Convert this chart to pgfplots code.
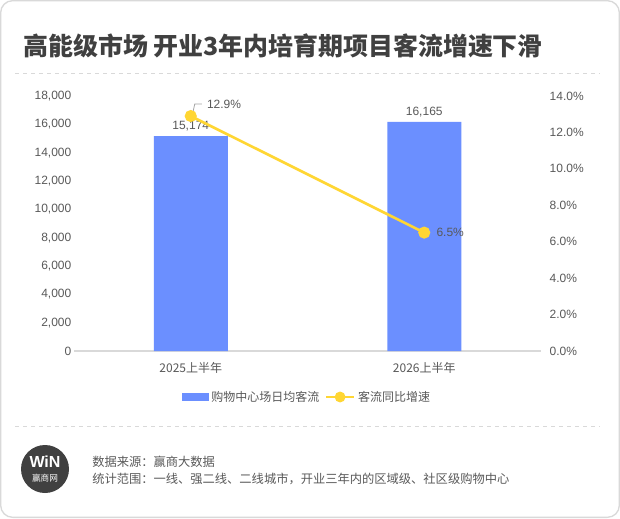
\documentclass[border=0pt]{standalone}
\usepackage{fontspec}
\setmainfont{Liberation Sans}
\newfontfamily\cjk{Noto Sans CJK SC}
\usepackage{pgfplots}
\pgfplotsset{compat=1.18}
\definecolor{barblue}{HTML}{6B8FFF}
\definecolor{lineyel}{HTML}{FFD633}
\definecolor{txt}{HTML}{595959}
\definecolor{ttl}{HTML}{404040}
\definecolor{bord}{HTML}{D9D9D9}
\begin{document}
\begin{tikzpicture}
\useasboundingbox (0,0) rectangle (465pt,-388.5pt);
\draw[bord, line width=1pt, rounded corners=9pt, fill=white] (0.5pt,-0.5pt) rectangle (464.5pt,-388pt);
\node[anchor=west, text=ttl, inner sep=0pt, font=\cjk\bfseries\fontsize{18.7}{20}\selectfont] at (23*0.75pt,-46*0.75pt) {高能级市场 开业3年内培育期项目客流增速下滑};
\draw[bord, dashed, line width=0.6pt] (15*0.75pt,-73*0.75pt) -- (600*0.75pt,-73*0.75pt);
\draw[bord, dashed, line width=0.6pt] (15*0.75pt,-426*0.75pt) -- (600*0.75pt,-426*0.75pt);
% logo
\fill[ttl] (45*0.75pt,-469*0.75pt) circle (18pt);
\node[text=white, inner sep=0pt, font=\bfseries\fontsize{12}{12}\selectfont] at (45*0.75pt,-462*0.75pt) {WiN};
\node[text=white, inner sep=0pt, font=\cjk\fontsize{6.5}{7}\selectfont] at (45*0.75pt,-478*0.75pt) {赢商网};
\node[anchor=west, text=txt, inner sep=0pt, font=\cjk\fontsize{9.2}{11}\selectfont] at (92*0.75pt,-462*0.75pt) {数据来源：赢商大数据};
\node[anchor=west, text=txt, inner sep=0pt, font=\cjk\fontsize{9.2}{11}\selectfont] at (92*0.75pt,-479*0.75pt) {统计范围：一线、强二线、二线城市，开业三年内的区域级、社区级购物中心};

\begin{axis}[
  at={(74*0.75pt,-351*0.75pt)}, anchor=south west,
  scale only axis, width=350.25pt, height=191.25pt,
  xmin=-0.5, xmax=1.5, ymin=0, ymax=18000,
  axis x line*=bottom, axis y line*=left,
  x axis line style={bord, line width=0.8pt, -},
  y axis line style={draw=none},
  major tick length=0pt,
  xtick={0,1}, xticklabels={2025上半年,2026上半年},
  xticklabel style={font=\cjk\fontsize{9}{11}\selectfont, text=txt, yshift=-5pt},
  ytick={0,2000,...,18000},
  yticklabel style={font=\fontsize{9}{11}\selectfont, text=txt, xshift=1.5pt},
  /pgf/number format/assume math mode=true,
  /pgf/number format/1000 sep={,},
  scaled y ticks=false,
  ybar, bar width=55.5pt,
  nodes near coords,
  nodes near coords style={font=\fontsize{9}{11}\selectfont, text=txt},
]
\addplot[fill=barblue, draw=none] coordinates {(0,15174) (1,16165)};
\end{axis}

\begin{axis}[
  at={(74*0.75pt,-351*0.75pt)}, anchor=south west,
  scale only axis, width=350.25pt, height=191.25pt,
  xmin=-0.5, xmax=1.5, ymin=0, ymax=14,
  hide x axis, axis y line*=right,
  y axis line style={draw=none},
  major tick length=0pt,
  ytick={0,2,...,14},
  yticklabel style={font=\fontsize{9}{11}\selectfont, text=txt, xshift=3pt},
  /pgf/number format/assume math mode=true,
  yticklabel={\pgfmathprintnumber[fixed,fixed zerofill,precision=1]{\tick}\%},
  legend style={at={(0.5,0)}, anchor=center, yshift=-34.5pt, draw=none, fill=none,
    font=\cjk\fontsize{9}{11}\selectfont, text=txt, legend columns=2,
    /tikz/every even column/.append style={column sep=2pt}},
  legend cell align=left,
]
\addlegendimage{legend image code/.code={\fill[barblue] (0pt,-2.6pt) rectangle (19.5pt,2.6pt);}}
\addlegendentry{购物中心场日均客流}
\draw[gray!70, line width=0.6pt] (axis cs:0,12.9) ++(1.5pt,2.25pt) -- ++(1.5pt,6.75pt) -- ++(5.25pt,0pt);
\addplot[lineyel, line width=2pt, mark=*, mark size=3.5pt, mark options={fill=lineyel, draw=lineyel},
  legend image code/.code={\draw[lineyel, line width=2pt] (0pt,0pt) -- (21pt,0pt); \fill[lineyel] (10.5pt,0pt) circle (3pt);}]
  coordinates {(0,12.9) (1,6.5)};
\addlegendentry{客流同比增速}
\node[anchor=west, inner sep=0pt, text=txt, font=\fontsize{9}{11}\selectfont, xshift=12pt, yshift=9pt] at (axis cs:0,12.9) {12.9\%};
\node[anchor=west, inner sep=0pt, text=txt, font=\fontsize{9}{11}\selectfont, xshift=9pt] at (axis cs:1,6.5) {6.5\%};
\end{axis}
\end{tikzpicture}
\end{document}
